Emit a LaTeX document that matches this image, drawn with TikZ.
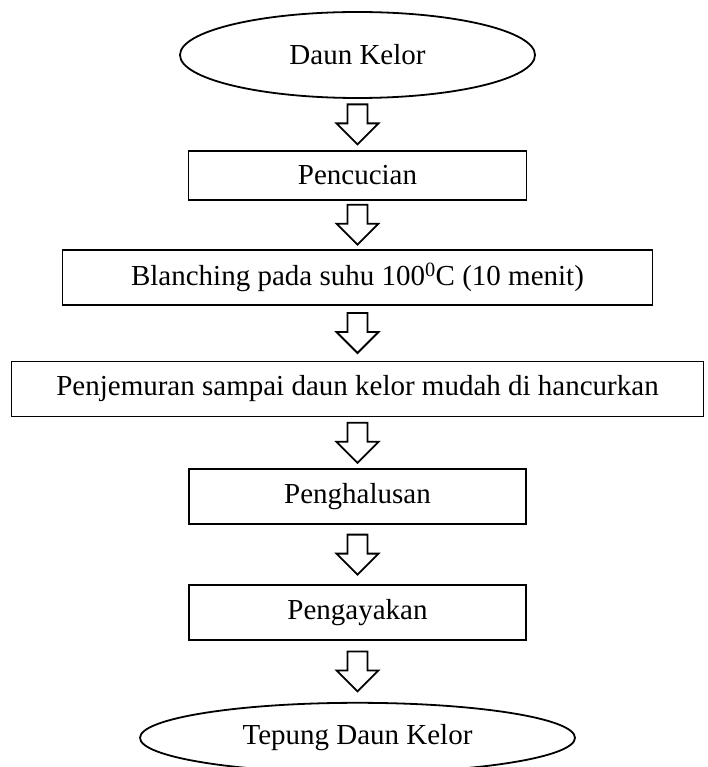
\documentclass[tikz,border=0pt]{standalone}
\usepackage{fontspec}
\setmainfont{Liberation Serif}
\usetikzlibrary{calc,positioning,shapes.geometric}

\begin{document}
\begin{tikzpicture}
    [x=1pt, y=1pt,
    oval/.style={draw, ellipse, line width=1.8pt, inner sep=0pt,
      font=\fontsize{29}{34}\selectfont},
    box/.style={draw, rectangle, line width=1.8pt, inner sep=0pt,
      minimum height=55pt, font=\fontsize{29}{34}\selectfont},
    hollow/.style={draw, line width=1.8pt, line join=miter, fill=white}]
  \useasboundingbox (0,0) rectangle (707,-767);

  \node [oval, minimum width=355pt, minimum height=86pt] (start) at (357.5,-55) {Daun Kelor};
  \node [box, minimum width=338pt, minimum height=49pt] (wash) [below=51pt of start] {Pencucian};
  \node [box, minimum width=590pt] (blanch) [below=48pt of wash]
    {Blanching pada suhu 100\textsuperscript{0}C (10 menit)};
  \node [box, minimum width=692pt] (dry) [below=55pt of blanch]
    {Penjemuran sampai daun kelor mudah di hancurkan};
  \node [box, minimum width=337pt] (grind) [below=51pt of dry] {Penghalusan};
  \node [box, minimum width=337pt] (sieve) [below=59pt of grind] {Pengayakan};
  \node [oval, minimum width=435pt, minimum height=70pt] (flour) [below=61pt of sieve] {Tepung Daun Kelor};

  \foreach \a/\b in {start/wash, wash/blanch, blanch/dry, dry/grind, grind/sieve, sieve/flour}
    \draw [hollow] ($(\a.south)!0.5!(\b.north)$) ++(-10,20) -- ++(20,0) -- ++(0,-19)
      -- ++(11,0) -- ++(-21,-21) -- ++(-21,21) -- ++(11,0) -- cycle;
\end{tikzpicture}
\end{document}
